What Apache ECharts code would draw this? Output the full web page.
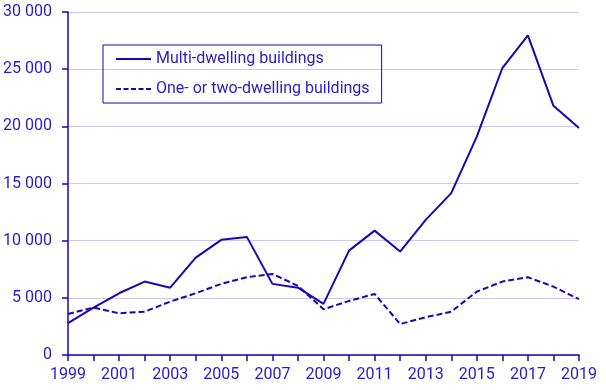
<!DOCTYPE html>
<html><head><meta charset="utf-8">
<script src="https://cdn.jsdelivr.net/npm/echarts@6/dist/echarts.min.js"></script>
<style>html,body{margin:0;padding:0;background:#fff}#c{width:606px;height:390px}</style>
</head><body><div id="c"></div>
<script>
var years = ['1999','2000','2001','2002','2003','2004','2005','2006','2007','2008','2009','2010','2011','2012','2013','2014','2015','2016','2017','2018','2019'];
var multiDwelling = [2780,4150,5400,6420,5890,8520,10070,10330,6220,5890,4470,9130,10880,9050,11820,14160,19100,25100,27960,21790,19850];
var oneTwoDwelling = [3590,4150,3650,3790,4670,5400,6220,6800,7090,6050,4000,4730,5340,2710,3300,3790,5540,6420,6800,5980,4880];
var seriesNames = ['Multi-dwelling buildings','One- or two-dwelling buildings'];

var ink = '#1d05b4';
var txt = '#2a1bc4';
var chart = echarts.init(document.getElementById('c'), null, {renderer:'canvas'});
chart.setOption({
  animation:false,
  textStyle:{fontFamily:'Roboto'},
  grid:{left:68,right:27,top:12,bottom:35,containLabel:false},
  legend:{
    left:103, top:45, orient:'vertical',
    padding:[6,12,6,13],
    borderColor:ink, borderWidth:1,
    itemWidth:35, itemHeight:14, itemGap:14,
    textStyle:{color:txt,fontSize:16,fontFamily:'Roboto'},
    data:[
      {name:seriesNames[0],icon:'path://M0,6L35,6L35,8L0,8Z'},
      {name:seriesNames[1],icon:'path://M0,6h5v2h-5zM7.5,6h5v2h-5zM15,6h5v2h-5zM22.5,6h5v2h-5zM30,6h5v2h-5z'}
    ]
  },
  xAxis:{
    type:'category', data:years, boundaryGap:false,
    axisLine:{lineStyle:{color:ink,width:1.5}},
    axisTick:{interval:0,length:6,lineStyle:{color:ink,width:1.5}},
    axisLabel:{interval:1,color:txt,fontSize:16,margin:12,fontFamily:'Roboto'},
    splitLine:{show:false}
  },
  yAxis:{
    type:'value', min:0, max:30000, interval:5000,
    axisLine:{show:true,lineStyle:{color:ink,width:1.5}},
    axisTick:{show:true,length:6,lineStyle:{color:ink,width:1.5}},
    axisLabel:{color:txt,fontSize:16,margin:16,fontFamily:'Roboto',
      formatter:function(v){return String(v).replace(/\B(?=(\d{3})+(?!\d))/g,' ');}},
    splitLine:{lineStyle:{color:'#cdc8f2',width:1}}
  },
  series:[
    {name:seriesNames[0],type:'line',data:multiDwelling,symbol:'none',
     lineStyle:{color:ink,width:2},itemStyle:{color:ink}},
    {name:seriesNames[1],type:'line',data:oneTwoDwelling,symbol:'none',
     lineStyle:{color:ink,width:2,type:[6,3]},itemStyle:{color:ink}}
  ]
});
</script></body></html>
